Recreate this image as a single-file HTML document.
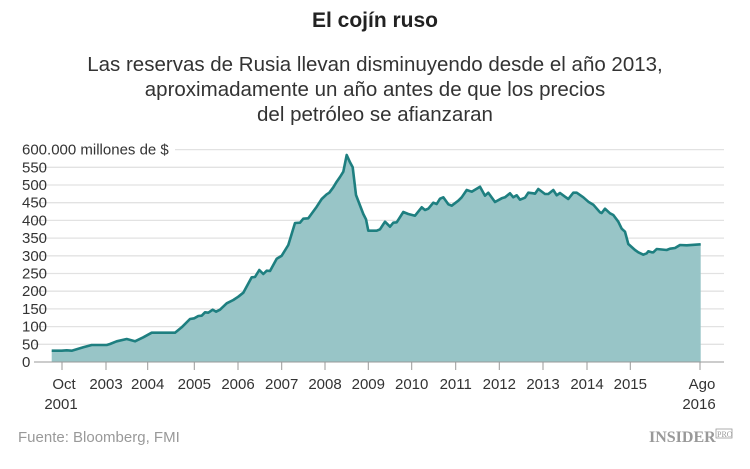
<!DOCTYPE html>
<html><head><meta charset="utf-8"><style>
body{margin:0;width:750px;height:469px;background:#fff;overflow:hidden;font-family:"Liberation Sans",sans-serif}
svg{position:absolute;left:0;top:0}
</style></head><body>
<svg id="s" width="750" height="469" xmlns="http://www.w3.org/2000/svg" font-family="Liberation Sans, sans-serif">
<text x="375" y="27" text-anchor="middle" font-size="21" font-weight="bold" fill="#222">El cojín ruso</text>
<text x="375" y="71" text-anchor="middle" font-size="20.5" fill="#333">Las reservas de Rusia llevan disminuyendo desde el año 2013,</text>
<text x="375" y="96" text-anchor="middle" font-size="20.5" fill="#333">aproximadamente un año antes de que los precios</text>
<text x="375" y="121" text-anchor="middle" font-size="20.5" fill="#333">del petróleo se afianzaran</text>
<g id="grid" stroke="#e2e2e2" stroke-width="1.3"></g>
<path id="area" fill="#98c5c7"/>
<path id="line" fill="none" stroke="#1e7f80" stroke-width="2.6" stroke-linejoin="round"/>
<g id="yl" font-size="15" fill="#333"></g>
<line x1="34" y1="362" x2="724" y2="362" stroke="#999" stroke-width="1"/>
<g id="xt" stroke="#999"></g>
<g id="xl" font-size="15" fill="#333" text-anchor="middle"></g>
<text x="18" y="442" font-size="15" fill="#999">Fuente: Bloomberg, FMI</text>
<text x="649" y="442" font-size="16" font-family="Liberation Serif, serif" font-weight="bold" fill="#999">INSIDER</text>
<rect x="716" y="429" width="16" height="9" fill="none" stroke="#999" stroke-width="0.8"/>
<text x="717" y="437" font-size="8" font-family="Liberation Serif, serif" fill="#999">PRO</text>
</svg>
<script>
var s='http://www.w3.org/2000/svg';
function el(p,t,a,txt){var e=document.createElementNS(s,t);for(var k in a)e.setAttribute(k,a[k]);if(txt)e.textContent=txt;document.getElementById(p).appendChild(e);}
for(var i=0;i<=12;i++){var y=362-i*17.7;
 if(i>0)el('grid','line',{x1:i==12?175:34,y1:y,x2:724,y2:y});
 el('yl','text',{x:22,y:y+5},i==12?'600.000 millones de $':String(i*50));}
var ticks=[[62,'Oct','2001'],[106,'2003'],[147.7,'2004'],[194.3,'2005'],[238,'2006'],[281.7,'2007'],[325,'2008'],[368.3,'2009'],[411.7,'2010'],[455.7,'2011'],[499.3,'2012'],[543,'2013'],[587,'2014'],[630.3,'2015'],[700,'Ago','2016']];
ticks.forEach(function(t){el('xt','line',{x1:t[0],y1:362,x2:t[0],y2:370});el('xl','text',{x:t[0]+(t[2]?2:0),y:389},t[1]);if(t[2])el('xl','text',{x:t[0]-1,y:409},t[2]);});
var L=[155,632,185,632,200,631,215,632,230,628,250,622,275,615,320,615,330,612,350,604,380,597,405,604,430,592,455,578,525,578,545,562,570,537,583,535,595,528,605,527,615,517,625,518,638,509,648,515,660,509,680,490,700,480,715,470,730,458,755,412,765,411,778,390,790,402,800,392,810,393,830,356,845,347,865,315,885,249,900,248,910,236,925,235,950,200,965,177,980,163,988,158,1000,142,1010,125,1020,111,1030,95,1040,45,1050,67,1058,82,1068,165,1090,222,1098,238,1105,272,1130,272,1140,268];
var R=[15,245,30,260,40,248,50,247,70,216,85,222,105,227,125,202,135,210,145,206,160,188,170,192,180,176,190,172,205,193,215,197,235,182,245,172,260,150,275,155,300,140,315,167,325,158,345,186,365,175,375,172,390,160,400,172,410,166,420,179,435,173,445,158,460,160,465,161,475,147,495,162,505,162,520,150,530,166,540,159,555,170,565,177,580,158,590,158,610,172,625,185,640,194,660,217,665,219,675,206,690,220,700,225,715,245,725,266,735,275,745,312,765,330,775,337,790,344,800,340,805,334,815,337,820,337,830,327,860,330,870,326,885,324,900,315,920,316,962,313];
var P=[];for(var i=0;i<L.length;i+=2)P.push([L[i]/3,140+L[i+1]/3]);
for(var i=0;i<R.length;i+=2)P.push([380+R[i]/3,140+R[i+1]/3]);
var d=P.map(function(p,i){return (i?'L':'M')+p[0].toFixed(1)+','+p[1].toFixed(1)}).join('');
document.getElementById('line').setAttribute('d',d);
document.getElementById('area').setAttribute('d',d+'L'+P[P.length-1][0].toFixed(1)+',362L'+P[0][0].toFixed(1)+',362Z');
</script>
</body></html>
